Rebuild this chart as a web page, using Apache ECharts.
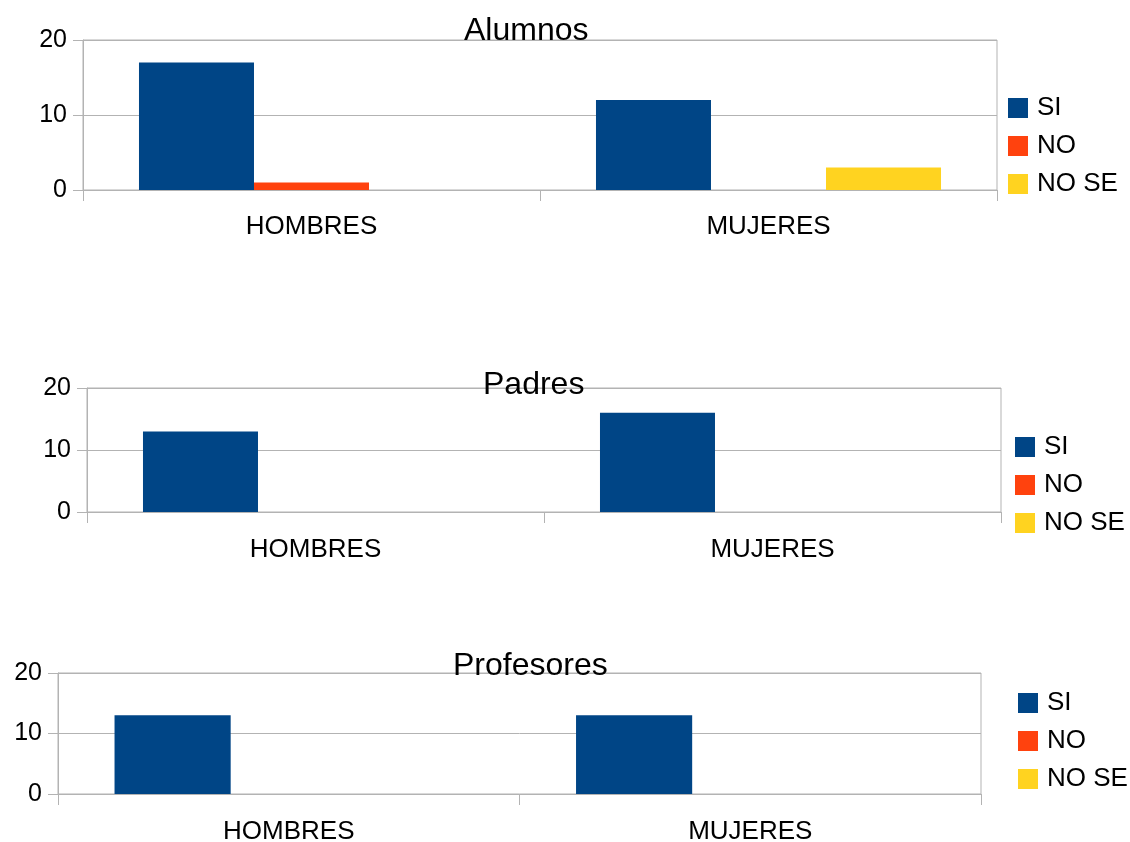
<!DOCTYPE html>
<html>
<head>
<meta charset="utf-8">
<script src="https://cdn.jsdelivr.net/npm/echarts@6/dist/echarts.min.js"></script>
<style>html,body{margin:0;padding:0;background:#fff;overflow:hidden}#c{width:1130px;height:842px}</style>
</head>
<body>
<div id="c"></div>
<script>
const categories = ['HOMBRES', 'MUJERES'];
const seriesNames = ['SI', 'NO', 'NO SE'];
const chartTitles = ['Alumnos', 'Padres', 'Profesores'];
const yTicks = [0, 10, 20];
const alumnosSI = [17, 12];
const alumnosNO = [1, 0];
const alumnosNOSE = [0, 3];
const padresSI = [13, 16];
const padresNO = [0, 0];
const padresNOSE = [0, 0];
const profesoresSI = [13, 13];
const profesoresNO = [0, 0];
const profesoresNOSE = [0, 0];

const colors = ['#004586', '#ff420e', '#ffd320'];
const FONT = 'Liberation Sans, Arial, sans-serif';
const gridColor = '#b3b3b3';

const panels = [
  { data: [alumnosSI, alumnosNO, alumnosNOSE], grid: { left: 83, right: 133, top: 40, height: 150 },
    titlePos: { left: 464, top: 15 }, legendPos: { left: 1008, top: 95 }, xMargin: 24 },
  { data: [padresSI, padresNO, padresNOSE], grid: { left: 87, right: 129, top: 388, height: 124 },
    titlePos: { left: 483, top: 369 }, legendPos: { left: 1015, top: 434 }, xMargin: 25 },
  { data: [profesoresSI, profesoresNO, profesoresNOSE], grid: { left: 58, right: 149, top: 673, height: 121 },
    titlePos: { left: 453, top: 650 }, legendPos: { left: 1018, top: 690 }, xMargin: 25 }
];

const option = {
  animation: false,
  color: colors,
  textStyle: { fontFamily: FONT },
  title: [], legend: [], grid: [], xAxis: [], yAxis: [], series: []
};

panels.forEach((p, i) => {
  option.title.push({
    text: chartTitles[i], left: p.titlePos.left, top: p.titlePos.top, padding: 0,
    textStyle: { fontFamily: FONT, fontSize: 32, fontWeight: 'normal', color: '#000' }
  });
  option.legend.push({
    orient: 'vertical', left: p.legendPos.left, top: p.legendPos.top, padding: 0,
    itemWidth: 20, itemHeight: 20, itemGap: 12, data: seriesNames, selectedMode: false,
    icon: 'rect',
    textStyle: { fontFamily: FONT, fontSize: 26, color: '#000', lineHeight: 20, padding: [0, 0, 0, 4] }
  });
  option.grid.push(Object.assign({ show: true, borderColor: gridColor, borderWidth: 1,
    containLabel: false, outerBoundsMode: 'none' }, p.grid));
  option.xAxis.push({
    type: 'category', gridIndex: i, data: categories,
    axisLine: { lineStyle: { color: gridColor } },
    axisTick: { show: true, length: 11, lineStyle: { color: gridColor } },
    axisLabel: { fontFamily: FONT, fontSize: 26, color: '#000', margin: p.xMargin }
  });
  option.yAxis.push({
    type: 'value', gridIndex: i, min: yTicks[0], max: yTicks[yTicks.length - 1], interval: yTicks[1] - yTicks[0],
    axisLine: { show: true, lineStyle: { color: gridColor } },
    axisTick: { show: true, length: 10, lineStyle: { color: gridColor } },
    splitLine: { lineStyle: { color: gridColor } },
    axisLabel: { fontFamily: FONT, fontSize: 25, color: '#000', margin: 16 }
  });
  p.data.forEach((vals, k) => {
    option.series.push({
      name: seriesNames[k], type: 'bar', xAxisIndex: i, yAxisIndex: i, data: vals,
      barGap: '0%', barCategoryGap: '24.5%', itemStyle: { color: colors[k] }
    });
  });
});

const chart = echarts.init(document.getElementById('c'), null, { renderer: 'canvas' });
chart.setOption(option);
</script>
</body>
</html>
